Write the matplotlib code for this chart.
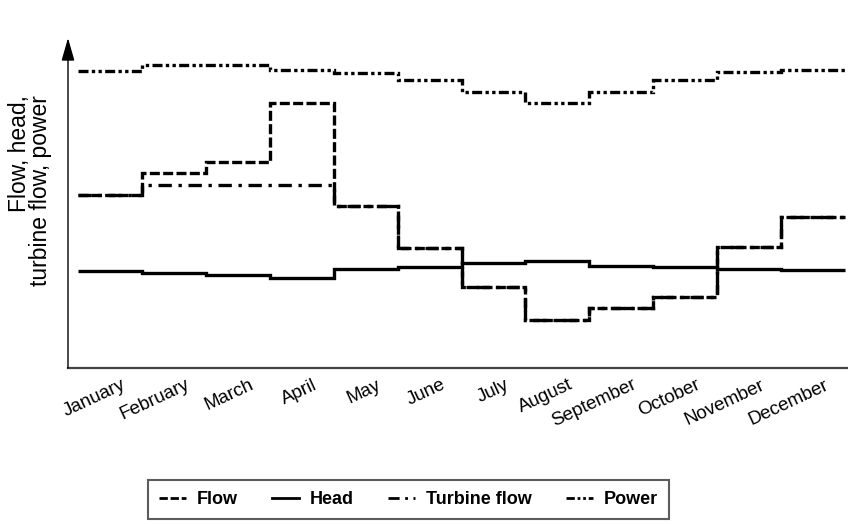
import numpy as np
import matplotlib.pyplot as plt
import matplotlib.transforms as mtransforms
from matplotlib.lines import Line2D

plt.rcParams['font.family'] = ['Liberation Sans', 'DejaVu Sans']

# --- data (arbitrary units) ---
MONTHS = ["January", "February", "March", "April", "May", "June", "July",
          "August", "September", "October", "November", "December"]
flow = [173, 195, 206, 265, 162, 120, 81, 48, 60, 71, 121, 151]
turbine_flow = [173, 183, 183, 183, 162, 120, 81, 48, 60, 71, 121, 151]
head = [97, 95, 93, 90, 99, 101, 105, 107, 102, 101, 99, 98]
power = [297, 303, 303, 298, 295, 288, 276, 265, 276, 288, 296, 298]

edges = np.arange(len(MONTHS) + 1)

ls_flow = (0, (3, 1))
ls_turb = (0, (4, 2, 1, 2))
ls_power = (0, (3, 1, 1, 1, 1, 1))

fig = plt.figure(figsize=(8.48, 5.24), dpi=100)
ax = fig.add_axes([68 / 848, 156 / 524, 780 / 848, 330 / 524])

lw = 2.4
ax.stairs(power, edges, baseline=None, color='black', linewidth=lw, linestyle=ls_power)
ax.stairs(turbine_flow, edges, baseline=None, color='black', linewidth=lw, linestyle=ls_turb)
ax.stairs(flow, edges, baseline=None, color='black', linewidth=lw, linestyle=ls_flow)
ax.stairs(head, edges, baseline=None, color='black', linewidth=lw, linestyle='-')

ax.set_xlim(-0.16, 12.05)
ax.set_ylim(0, 330)

for s in ['top', 'right', 'left']:
    ax.spines[s].set_visible(False)
ax.spines['bottom'].set_color('#444444')
ax.spines['bottom'].set_linewidth(1.6)

# y axis with arrow head
ax.annotate('', xy=(0, 1.0), xytext=(0, 0), xycoords='axes fraction',
            arrowprops=dict(arrowstyle='-|>,head_length=1.4,head_width=0.4',
                            color='black', lw=1.0, shrinkA=0, shrinkB=0))

ax.set_yticks([])
ax.set_xticks(edges[:-1] + 0.5)
ax.set_xticklabels(MONTHS, rotation=25, ha='right', rotation_mode='anchor', fontsize=13.5)
ax.tick_params(axis='x', length=0, pad=6)
offset = mtransforms.ScaledTranslation(0.11, 0, fig.dpi_scale_trans)
for lab in ax.get_xticklabels():
    lab.set_transform(lab.get_transform() + offset)

fig.text(30 / 848, 1 - 95 / 524, "Flow, head,\nturbine flow, power", rotation=90,
         ha='center', va='top', multialignment='right', fontsize=16.5, linespacing=0.9)

hs = [Line2D([], [], color='black', lw=2, linestyle=ls_flow),
      Line2D([], [], color='black', lw=2),
      Line2D([], [], color='black', lw=2, linestyle=ls_turb),
      Line2D([], [], color='black', lw=2, linestyle=ls_power)]
leg = fig.legend(hs, ["Flow", "Head", "Turbine flow", "Power"],
                 loc='upper left', bbox_to_anchor=(148 / 848, 1 - 480 / 524),
                 borderaxespad=0, ncol=4, frameon=True, fancybox=False,
                 handlelength=1.5, columnspacing=1.9, handletextpad=0.6,
                 borderpad=0.6, prop={'weight': 'bold', 'size': 13})
leg.get_frame().set_edgecolor('#333333')
leg.get_frame().set_linewidth(1.5)

fig.savefig("out.png", dpi=100)
